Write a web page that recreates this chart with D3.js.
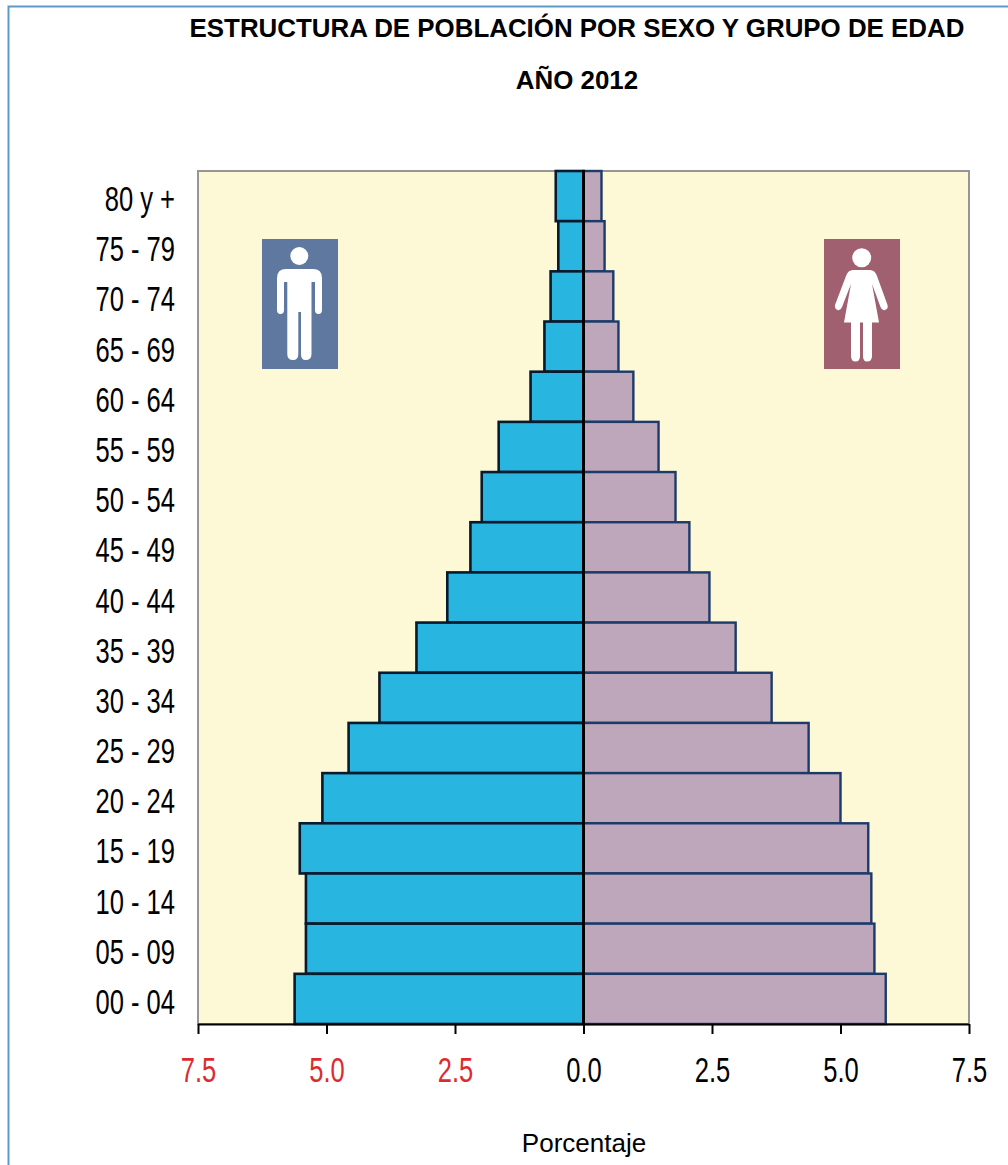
<!DOCTYPE html>
<html><head><meta charset="utf-8">
<script src="https://cdn.jsdelivr.net/npm/d3@7"></script>
<style>html,body{margin:0;padding:0;background:#fff;overflow:hidden}svg{display:block}</style>
</head><body><svg id="c" width="1008" height="1165"></svg>
<script>
const ageGroups=["80 y +","75 - 79","70 - 74","65 - 69","60 - 64","55 - 59","50 - 54","45 - 49","40 - 44","35 - 39","30 - 34","25 - 29","20 - 24","15 - 19","10 - 14","05 - 09","00 - 04"];
const maleValues=[0.54,0.49,0.64,0.76,1.03,1.65,1.98,2.2,2.65,3.25,3.97,4.57,5.08,5.52,5.4,5.4,5.62];
const femaleValues=[0.35,0.41,0.58,0.68,0.97,1.46,1.79,2.06,2.45,2.96,3.66,4.38,5.0,5.54,5.6,5.66,5.88];
const xTicks=[-7.5,-5,-2.5,0,2.5,5,7.5];
const titleLines=["ESTRUCTURA DE POBLACIÓN POR SEXO Y GRUPO DE EDAD","AÑO 2012"];
const axisTitle="Porcentaje";

const svg=d3.select("#c");
const L=198,R=969,T=171,B=1024;
const x=d3.scaleLinear().domain([-7.5,7.5]).range([L,R]);
const y=d3.scaleBand().domain(ageGroups).range([T,B]);
const sans="'Liberation Sans',Arial,sans-serif";
const squeeze=0.73;

// outer frame
svg.append("path").attr("d","M8.5,1165V6.5H1008").attr("fill","none").attr("stroke","#5a9bc8").attr("stroke-width",2);

// titles
svg.selectAll("text.t").data(titleLines).join("text").attr("class","t")
 .attr("x",577).attr("y",(d,i)=>37+i*52).attr("text-anchor","middle")
 .attr("font-family",sans).attr("font-weight","bold").attr("font-size",25.9).attr("fill","#000").text(d=>d);

// plot area
svg.append("rect").attr("x",L).attr("y",T).attr("width",R-L).attr("height",B-T)
 .attr("fill","#fdf8d6").attr("stroke","#969696").attr("stroke-width",2);

// bars
svg.selectAll("rect.m").data(ageGroups).join("rect").attr("class","m")
 .attr("x",(d,i)=>x(-maleValues[i])).attr("y",d=>y(d))
 .attr("width",(d,i)=>x(0)-x(-maleValues[i])).attr("height",y.bandwidth())
 .attr("fill","#28b5e0").attr("stroke","#071a2e").attr("stroke-width",2.6);
svg.selectAll("rect.f").data(ageGroups).join("rect").attr("class","f")
 .attr("x",x(0)).attr("y",d=>y(d))
 .attr("width",(d,i)=>x(femaleValues[i])-x(0)).attr("height",y.bandwidth())
 .attr("fill","#bea6bb").attr("stroke","#1c3b68").attr("stroke-width",2.4);
svg.append("line").attr("x1",x(0)).attr("x2",x(0)).attr("y1",T-1).attr("y2",B)
 .attr("stroke","#000").attr("stroke-width",3);

// icons
const man=svg.append("g").attr("transform","translate(262,239)");
man.append("rect").attr("width",76).attr("height",130).attr("fill","#5f789f");
man.append("circle").attr("cx",37.3).attr("cy",17).attr("r",9).attr("fill","#fff");
man.append("path").attr("fill","#fff").attr("d","M24,30H51Q60,30 60,39V71Q60,75 56.5,75Q53,75 53,71V43H49.5V115Q49.5,121 43.5,121Q39,121 39,115V73H36.3V115Q36.3,121 31,121Q25.3,121 25.3,115V43H22V71Q22,75 18.5,75Q15,75 15,71V39Q15,30 24,30Z");
const woman=svg.append("g").attr("transform","translate(824,239)");
woman.append("rect").attr("width",76).attr("height",130).attr("fill","#a06070");
woman.append("circle").attr("cx",37.7).attr("cy",18.7).attr("r",9.5).attr("fill","#fff");
woman.append("path").attr("fill","#fff").attr("d","M29,31H46Q51,31 53,37L63.5,66Q64.5,70 61,71Q58,72 56.5,68L48,45L55,83.5H48V117Q48,122.5 43,122.5Q39,122.5 39,117V83.5H36V117Q36,122.5 31.5,122.5Q27,122.5 27,117V83.5H20L27,45L18,68Q16.5,72 13.5,71Q10.5,70 11,66L22,37Q24,31 29,31Z");

// axes
const gy=svg.append("g").attr("transform",`translate(${L},0)`).call(d3.axisLeft(y).tickSize(0));
gy.select(".domain").remove();
gy.selectAll("text").attr("font-family",sans).attr("font-size",35).attr("fill","#000")
 .attr("x",-23/squeeze).attr("dy",15).attr("transform",`scale(${squeeze},1)`);

const gx=svg.append("g").attr("transform",`translate(0,${B})`)
 .call(d3.axisBottom(x).tickValues(xTicks).tickSize(10).tickFormat(d=>d3.format(".1f")(Math.abs(d))));
gx.select(".domain").attr("stroke","#000").attr("stroke-width",2).attr("d",`M${L},0.5H${R}`);
gx.selectAll("line").attr("stroke","#000").attr("stroke-width",2);
gx.selectAll("text").attr("font-family",sans).attr("font-size",35).attr("fill",d=>d<0?"#dc2b30":"#000")
 .attr("y",58).attr("dy",0).attr("transform",`scale(${squeeze},1)`);

svg.append("text").attr("x",584).attr("y",1152).attr("text-anchor","middle")
 .attr("font-family",sans).attr("font-size",26).attr("fill","#000").text(axisTitle);
</script></body></html>
